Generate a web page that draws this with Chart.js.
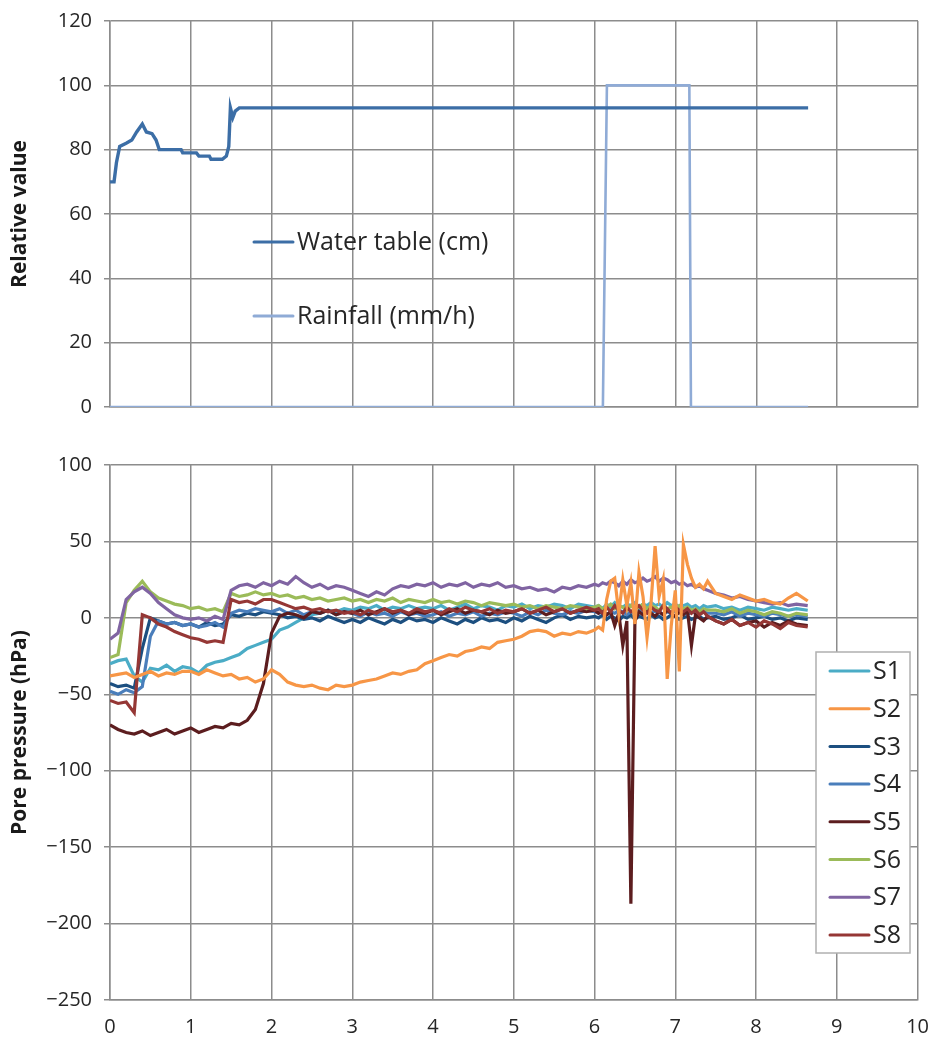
<!DOCTYPE html>
<html>
<head>
<meta charset="utf-8">
<script src="https://cdn.jsdelivr.net/npm/chart.js@4.4.0/dist/chart.umd.min.js"></script>
<style>
    html, body { margin: 0; background: #fff; overflow: hidden; }
    #wrap { position: relative; width: 932px; height: 1039px; overflow: hidden; }
    canvas { position: absolute; left: 0; }
    #top-chart { top: -3px; }
    #bottom-chart { top: 432px; }
</style>
</head>
<body>
<div id="wrap">
    <canvas id="top-chart" width="932" height="435"></canvas>
    <canvas id="bottom-chart" width="944" height="624"></canvas>
</div>
<script>
// ---- top panel: water table and rainfall ----
const waterX = [0, 0.05, 0.08, 0.12, 0.2, 0.27, 0.33, 0.4, 0.45, 0.52, 0.57, 0.61, 0.88, 0.9, 1.07, 1.1, 1.23, 1.25, 1.39, 1.44, 1.47, 1.49, 1.52, 1.55, 1.6, 8.64];
const waterY = [70, 70, 76, 81, 82, 83, 85.5, 88, 85.5, 85, 83, 80, 80, 79, 79, 78, 78, 77, 77, 78, 81, 93, 90, 92, 93, 93];
const rainX = [0, 6.1, 6.15, 7.17, 7.19, 8.64];
const rainY = [0, 0, 100, 100, 0, 0];

// ---- bottom panel: pore pressure sensors ----
const time = [
    0, 0.1, 0.2, 0.3, 0.4, 0.5, 0.6, 0.7, 0.8, 0.9,
    1, 1.1, 1.2, 1.3, 1.4, 1.5, 1.6, 1.7, 1.8, 1.9,
    2, 2.1, 2.2, 2.3, 2.4, 2.5, 2.6, 2.7, 2.8, 2.9,
    3, 3.1, 3.2, 3.3, 3.4, 3.5, 3.6, 3.7, 3.8, 3.9,
    4, 4.1, 4.2, 4.3, 4.4, 4.5, 4.6, 4.7, 4.8, 4.9,
    5, 5.1, 5.2, 5.3, 5.4, 5.5, 5.6, 5.7, 5.8, 5.9,
    6,
    6.05, 6.1, 6.15, 6.2, 6.25, 6.3, 6.35, 6.4, 6.45, 6.5, 6.55, 6.6, 6.65, 6.7,
    6.75, 6.8, 6.85, 6.9, 6.95, 7, 7.05, 7.1, 7.15, 7.2, 7.25, 7.3, 7.35, 7.4,
    7.5, 7.6, 7.7, 7.8, 7.9, 8, 8.1, 8.2, 8.3, 8.4, 8.5, 8.64
];

const s1 = [
    -30, -28, -27, -38, -42, -33, -34, -31, -35, -32,
    -33, -36, -31, -29, -28, -26, -24, -20, -18, -16,
    -14, -8, -6, -3, 0, 2, 3, 5, 4, 6,
    5, 7, 6, 8, 5, 7, 6, 8, 6, 7,
    6, 8, 5, 7, 9, 6, 8, 7, 5, 8,
    7, 9, 6, 8, 7, 9, 8, 6, 9, 8,
    7,
    8, 6, 9, 7, 10, 8, 7, 9, 8, 10, 7, 9, 8, 10,
    8, 9, 7, 10, 8, 9, 7, 8, 9, 7, 8, 6, 8, 7,
    8, 6, 7, 5, 7, 6, 5, 7, 6, 5, 6, 5
];
const s2 = [
    -38, -37, -36, -39, -37, -35, -38, -36, -37, -35,
    -35, -37, -34, -36, -38, -37, -40, -39, -42, -40,
    -34, -37, -42, -44, -45, -44, -46, -47, -44, -45,
    -44, -42, -41, -40, -38, -36, -37, -35, -34, -30,
    -28, -26, -24, -25, -22, -21, -19, -20, -16, -15,
    -14, -12, -9, -8, -9, -12, -10, -11, -9, -10,
    -8,
    -6, -8, 12, 24, 26, 3, 25, 8, 23, -4, 30, 14, -13, 10,
    47, 14, 25, -40, -5, 18, -35, 48, 35, 26, 20, 22, 19, 24,
    16, 14, 12, 15, 13, 11, 12, 10, 9, 13, 16, 11
];
const s3 = [
    -43, -45, -44, -46, -20, 0, -2, -4, -3, -5,
    -4, -6, -3, -5, -4, 2, 1, 3, 2, 4,
    3, 2, 0, 1, -1, 0, -2, 1, -1, -3,
    -1, -3, 0, -2, -4, -1, -3, 0, -2, -1,
    -3, 0, -2, -4, -1, -3, 0, -2, -1, -3,
    0, -2, 1, -1, -3, 0, 2, -1, 1, 0,
    1,
    0, 2, -1, 1, 0, -2, 1, 0, 2, -1, 1, 0, -1, 2,
    0, 1, -1, 0, 2, 1, -1, 0, 1, -1, 0, 1, -1, 0,
    1, -1, 0, 2, -1, 0, 1, -1, 0, -2, 0, -1
];
const s4 = [
    -48, -50, -47, -49, -45, -12, -2, -4, -3, -5,
    -4, -6, -5, -3, -6, 3, 5, 4, 6, 5,
    4, 6, 3, 5, 2, 4, 3, 5, 2, 4,
    3, 1, 4, 2, 3, 1, 4, 2, 3, 1,
    2, 4, 1, 3, 2, 4, 1, 3, 2, 4,
    3, 1, 4, 2, 5, 3, 2, 4, 3, 5,
    4,
    3, 5, 2, 4, 3, 5, 4, 2, 4, 3, 5, 2, 4, 3,
    5, 4, 2, 4, 3, 5, 3, 4, 2, 4, 3, 2, 4, 3,
    3, 2, 4, 1, 3, 2, 1, 3, 2, 1, 2, 1
];
const s5 = [
    -70, -73, -75, -76, -74, -77, -75, -73, -76, -74,
    -72, -75, -73, -71, -72, -69, -70, -67, -60, -43,
    -10, 1, 3, 2, 0, 4, 3, 5, 2, 4,
    3, 5, 2, 4, 6, 3, 5, 2, 4, 3,
    5, 2, 4, 6, 3, 5, 4, 2, 5, 3,
    4, 6, 3, 5, 2, 4, 6, 3, 5, 4,
    5,
    3, 5, 2, 4, -5, 3, -18, -2, -187, -2, 4, 2, 5, 3,
    1, 4, 2, 5, 3, 1, 4, 2, 5, -18, 2, 0, -2, 1,
    -2, -4, -1, -5, -3, -2, -6, -3, -5, -2, -4, -5
];
const s6 = [
    -26, -24, 10, 18, 24, 17, 13, 11, 9, 8,
    6, 7, 5, 6, 4, 16, 14, 15, 17, 15,
    16, 14, 15, 13, 14, 12, 13, 11, 12, 13,
    11, 12, 10, 12, 11, 13, 10, 12, 11, 10,
    12, 10, 11, 9, 11, 10, 8, 10, 9, 8,
    9, 7, 8, 6, 8, 7, 6, 8, 7, 6,
    7,
    8, 6, 7, 9, 6, 8, 7, 5, 8, 6, 7, 9, 6, 8,
    7, 5, 8, 6, 7, 5, 8, 6, 7, 5, 6, 4, 6, 5,
    5, 4, 6, 3, 5, 4, 2, 4, 3, 1, 3, 2
];
const s7 = [
    -14, -10, 12, 17, 20, 16, 10, 6, 2, 0,
    -1, 0, -2, 1, -1, 18, 21, 22, 20, 23,
    21, 24, 22, 27, 23, 20, 22, 19, 21, 20,
    18, 16, 14, 17, 15, 19, 21, 20, 22, 21,
    23, 20, 22, 21, 23, 20, 22, 21, 23, 20,
    21, 19, 20, 18, 19, 17, 20, 19, 21, 20,
    22,
    21, 23, 22, 24, 23, 21, 24, 22, 25, 23, 24, 26, 24, 25,
    27, 24, 26, 25, 23, 24, 22, 23, 21, 22, 20, 21, 19, 18,
    16, 15, 13, 14, 12, 11, 10, 9, 10, 8, 9, 8
];
const s8 = [
    -54, -56, -55, -62, 2, 0, -4, -6, -9, -11,
    -13, -14, -16, -15, -16, 12, 10, 11, 9, 12,
    12, 10, 8, 6, 7, 5, 6, 4, 5, 3,
    4, 2, 5, 3, 6, 4, 5, 3, 6, 4,
    5, 3, 6, 4, 7, 5, 4, 6, 3, 5,
    4, 6, 3, 5, 7, 4, 6, 3, 5, 7,
    5,
    6, 3, 7, 4, 8, 5, 3, 7, 4, 6, 8, 5, 3, 7,
    5, 4, 8, 6, 3, 7, 5, 4, 6, 3, 5, 2, 4, 1,
    -2, -4, -1, -5, -3, -6, -2, -4, -7, -3, -5, -6
];

const sensorNames = ['S1', 'S2', 'S3', 'S4', 'S5', 'S6', 'S7', 'S8'];
const sensorColors = ['#4bacc6', '#f79646', '#1c4f80', '#4a7ebb', '#5c1d1f', '#9bbb59', '#8064a2', '#953735'];
const sensorValues = [s1, s2, s3, s4, s5, s6, s7, s8];
// S2 drawn on top, then S8 .. S1 like the spreadsheet order
const sensorOrder = [8, 0, 6, 5, 4, 3, 2, 1];

const FONT = "'Open Sans', 'Noto Sans', sans-serif";
const GRID = '#8c8c8c';
const TEXT = '#262626';

function toPoints(xs, ys) {
    return xs.map((x, i) => ({ x: x, y: ys[i] }));
}

function minusLabel(v) {
    return v < 0 ? '\u2212' + Math.abs(v) : String(v);
}

function legendPlugin(items, opt) {
    return {
        id: 'panelLegend',
        afterDatasetsDraw(chart) {
            const ctx = chart.ctx;
            ctx.save();
            if (opt.box) {
                ctx.fillStyle = '#fff';
                ctx.fillRect(opt.box.x, opt.box.y, opt.box.w, opt.box.h);
                ctx.strokeStyle = '#b0b0b0';
                ctx.lineWidth = 1.5;
                ctx.strokeRect(opt.box.x, opt.box.y, opt.box.w, opt.box.h);
            }
            items.forEach((it, i) => {
                const y = opt.y0 + i * opt.dy;
                ctx.strokeStyle = it.color;
                ctx.lineWidth = 3;
                ctx.lineCap = 'round';
                ctx.beginPath();
                ctx.moveTo(opt.x0, y);
                ctx.lineTo(opt.x1, y);
                ctx.stroke();
                ctx.fillStyle = TEXT;
                ctx.font = opt.font;
                ctx.textBaseline = 'middle';
                ctx.fillText(it.label, opt.x1 + 4, y + 1);
            });
            ctx.restore();
        }
    };
}

function yAxis(min, max, step, title) {
    return {
        min: min,
        max: max,
        ticks: { stepSize: step, padding: 12, color: TEXT, font: { family: FONT, size: 20 }, callback: minusLabel },
        grid: { color: GRID, lineWidth: 1.5, tickLength: 6 },
        border: { color: GRID, width: 1.5 },
        title: { display: true, text: title, color: '#1a1a1a', font: { family: FONT, size: 21, weight: 'bold' }, padding: { top: 7, bottom: 0 } },
        afterFit(scale) { scale.width = 110; }
    };
}

const waterColor = '#3c6ea6';
const rainColor = '#8fabd6';

new Chart(document.getElementById('top-chart'), {
    type: 'line',
    data: {
        datasets: [
            { label: 'Water table (cm)', data: toPoints(waterX, waterY), borderColor: waterColor, borderWidth: 3.4, pointRadius: 0 },
            { label: 'Rainfall (mm/h)', data: toPoints(rainX, rainY), borderColor: rainColor, borderWidth: 2.6, pointRadius: 0 },
        ],
    },
    options: {
        responsive: false,
        animation: false,
        devicePixelRatio: 1,
        layout: { padding: { top: 24, right: 14, bottom: 25, left: 0 } },
        scales: {
            x: {
                type: 'linear', min: 0, max: 10,
                ticks: { stepSize: 1, display: false },
                grid: { color: GRID, lineWidth: 1.5, drawTicks: false },
                border: { color: GRID, width: 1.5 },
            },
            y: yAxis(0, 120, 20, 'Relative value'),
        },
        plugins: { legend: { display: false }, tooltip: { enabled: false } },
    },
    plugins: [legendPlugin(
        [{ label: 'Water table (cm)', color: waterColor }, { label: 'Rainfall (mm/h)', color: rainColor }],
        { x0: 254, x1: 293, y0: 245, dy: 74, font: '25px ' + FONT }
    )],
});

new Chart(document.getElementById('bottom-chart'), {
    type: 'line',
    data: {
        datasets: sensorNames.map((name, i) => ({
            label: name,
            data: toPoints(time, sensorValues[i]),
            borderColor: sensorColors[i],
            borderWidth: 3.2,
            pointRadius: 0,
            order: sensorOrder[i],
        })),
    },
    options: {
        responsive: false,
        animation: false,
        devicePixelRatio: 1,
        layout: { padding: { top: 33, right: 2, bottom: 2, left: 0 } },
        scales: {
            x: {
                type: 'linear', min: 0, max: 10,
                ticks: { stepSize: 1, padding: 15, color: TEXT, font: { family: FONT, size: 20 } },
                grid: { color: GRID, lineWidth: 1.5, drawTicks: false },
                border: { color: GRID, width: 1.5 },
            },
            y: yAxis(-250, 100, 50, 'Pore pressure (hPa)'),
        },
        plugins: { legend: { display: false }, tooltip: { enabled: false } },
    },
    plugins: [legendPlugin(
        sensorNames.map((name, i) => ({ label: name, color: sensorColors[i] })),
        { box: { x: 816, y: 220, w: 94, h: 301 }, x0: 830, x1: 869, y0: 239, dy: 37.7, font: '25px ' + FONT }
    )],
});
</script>
</body>
</html>
